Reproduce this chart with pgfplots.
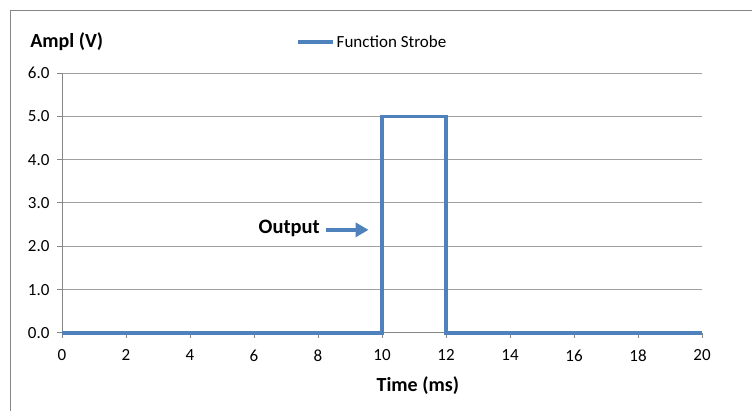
\documentclass[border=0pt]{standalone}
\usepackage{fontspec}
\setmainfont{Carlito}
\usepackage{pgfplots}
\pgfplotsset{compat=1.18}
\usetikzlibrary{arrows.meta}
\definecolor{series}{RGB}{79,129,189}
\definecolor{gridc}{RGB}{160,160,160}
\definecolor{axc}{RGB}{134,134,134}
\begin{document}
\begin{tikzpicture}[x=1pt,y=1pt]
\useasboundingbox (0,0) rectangle (752,411);
\fill[white] (0,0) rectangle (752,411);
\draw[axc, line width=1pt] (10,0) -- (10,400) -- (752,400);
\begin{axis}[
 at={(62pt,78pt)}, anchor=south west,
 scale only axis, width=640pt, height=260pt,
 xmin=0, xmax=20, ymin=0, ymax=6,
 xtick={0,2,...,20}, ytick={0,1,...,6},
 axis lines=left, axis line style={-, axc, line width=1pt},
 ymajorgrids, grid style={gridc, line width=1pt},
 tick align=outside, major tick length=5pt,
 tick style={axc, line width=1pt},
 clip=false,
 /pgf/number format/assume math mode=true,
 yticklabel style={/pgf/number format/fixed, /pgf/number format/fixed zerofill, /pgf/number format/precision=1, xshift=-4pt},
 ticklabel style={font=\fontsize{17}{20}\selectfont, text=black},
 xticklabel style={yshift=-8pt},
 xlabel={Time (ms)}, ylabel={Ampl (V)},
 every axis x label/.style={at={(axis description cs:0.556,-0.204)}, anchor=center, font=\bfseries\fontsize{20}{24}\selectfont},
 every axis y label/.style={at={(axis description cs:-0.055,1.119)}, anchor=west, font=\bfseries\fontsize{20}{24}\selectfont},
 legend style={draw=none, fill=none, at={(axis description cs:0.366,1.119)}, anchor=west, font=\fontsize{17}{20}\selectfont, inner sep=0pt, outer sep=0pt},
 legend image code/.code={\draw[#1] (0pt,0pt) -- (35pt,0pt);},
 legend cell align=left,
]
\addplot[series, line width=3.5pt, line join=miter] coordinates {(0,0) (10,0) (10,5) (12,5) (12,0) (20,0)};
\addlegendentry{Function Strobe}
\node[font=\bfseries\fontsize{20.5}{24}\selectfont, anchor=east, inner sep=0pt] at (axis cs:8.06,2.42) {Output};
\draw[series, line width=3.5pt, -{Triangle[length=13pt, width=14pt]}] (axis cs:8.25,2.38) -- (axis cs:9.58,2.38);
\end{axis}
\end{tikzpicture}
\end{document}
